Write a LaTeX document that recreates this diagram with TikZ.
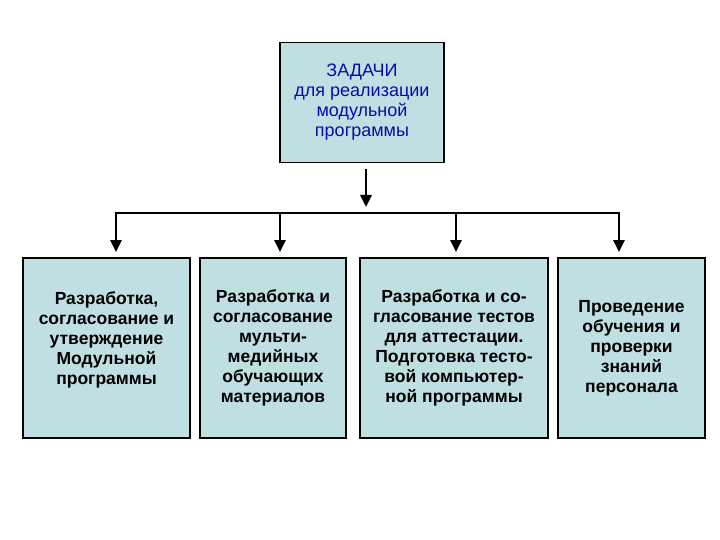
\documentclass[tikz,border=0pt]{standalone}
\usepackage{fontspec}
\setmainfont{Liberation Sans}
\usetikzlibrary{arrows.meta,positioning}
\definecolor{boxfill}{RGB}{191,223,227}
\definecolor{taskblue}{RGB}{10,10,170}

\begin{document}
\begin{tikzpicture}[x=1bp, y=-1bp,
    box/.style={draw=black, line width=1.8bp, fill=boxfill, align=center, inner sep=0pt,
        minimum height=180bp, font=\fontsize{17.5bp}{20bp}\selectfont\bfseries},
    link/.style={line width=2.8bp},
    arr/.style={link, -{Triangle[length=12bp, width=11bp]}, shorten >=5bp}]
    \useasboundingbox (0,0) rectangle (720,540);

    % Top box
    \node[box, minimum width=164bp, minimum height=120bp, text=taskblue,
        font=\fontsize{18bp}{20bp}\selectfont] (zadachi) at (362,102.5)
        {ЗАДАЧИ\\для реализации\\модульной\\программы};

    % Task boxes
    \node[box, minimum width=167bp] (razrab) at (106.5,348)
        {Разработка,\\согласование и\\утверждение\\Модульной\\программы\\\mbox{}};
    \node[box, minimum width=146bp] (multi) at (273,348)
        {Разработка и\\согласование\\мульти-\\медийных\\обучающих\\материалов};
    \node[box, minimum width=188bp] (testy) at (454,348)
        {Разработка и со-\\гласование тестов\\для аттестации.\\Подготовка тесто-\\вой компьютер-\\ной программы};
    \node[box, minimum width=147bp] (provedenie) at (631.5,348)
        {Проведение\\обучения и\\проверки\\знаний\\персонала};

    % Branch points
    \coordinate (fork) at (366,213);
    \coordinate (b1) at (116,213);
    \coordinate (b2) at (280,213);
    \coordinate (b3) at (456,213);
    \coordinate (b4) at (619,213);

    % Connectors
    \draw[arr, shorten <=6bp] (fork |- zadachi.south) -- ([yshift=1bp]fork);
    \draw[link] ([xshift=-1.4bp]b1) -- ([xshift=1.4bp]b4);
    \foreach \b/\t in {b1/razrab, b2/multi, b3/testy, b4/provedenie} {
        \draw[arr] (\b) -- (\b |- \t.north);
    }
\end{tikzpicture}
\end{document}
